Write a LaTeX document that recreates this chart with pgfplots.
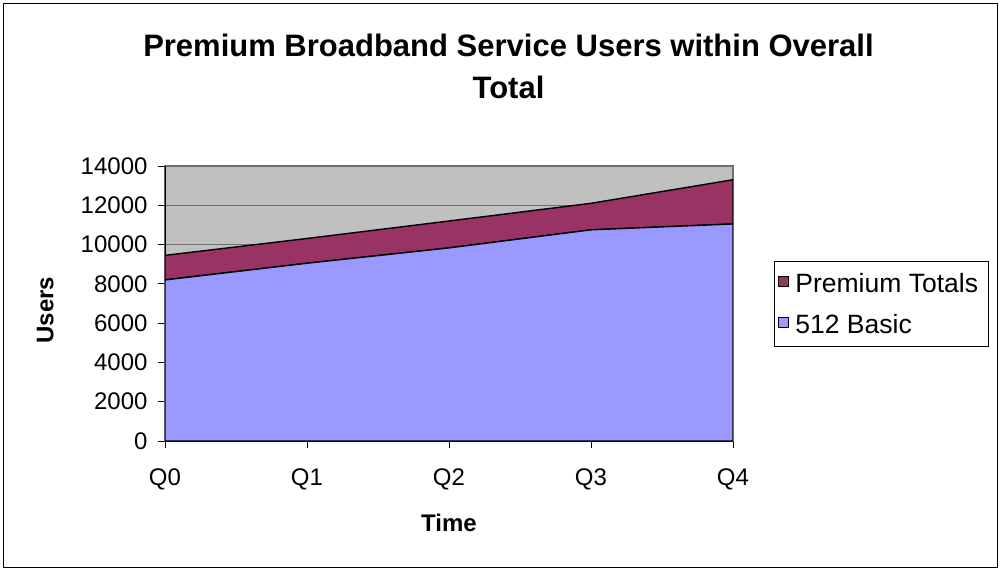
\documentclass[border=0pt]{standalone}
\usepackage{pgfplots}
\pgfplotsset{compat=1.18}
\usepackage{fontspec}
\setmainfont{Liberation Sans}

\definecolor{basicblue}{HTML}{9999FF}
\definecolor{premium}{HTML}{993366}
\definecolor{plotbg}{HTML}{C0C0C0}
\definecolor{gridgray}{HTML}{707070}

\begin{document}
\begin{tikzpicture}
  % page frame
  \path[use as bounding box] (0pt,0pt) rectangle (1002pt,571pt);
  \draw[black, line width=1.2pt] (3.5pt,3.5pt) rectangle (997.5pt,567.5pt);

  % title, two lines
  \node[anchor=base, font=\fontsize{31}{38}\selectfont\bfseries] at (508.5pt,514pt)
    {Premium Broadband Service Users within Overall};
  \node[anchor=base, font=\fontsize{31}{38}\selectfont\bfseries] at (508.5pt,472pt)
    {Total};

  \begin{axis}[
    at={(165pt,130pt)}, anchor=south west,
    scale only axis, width=568pt, height=275pt,
    xmin=0, xmax=4, ymin=0, ymax=14000,
    xtick={0,1,2,3,4},
    xticklabels={Q0,Q1,Q2,Q3,Q4},
    ytick={0,2000,...,14000},
    xtick pos=bottom, ytick pos=left,
    scaled y ticks=false,
    /pgf/number format/assume math mode=true,
    /pgf/number format/1000 sep={},
    tick label style={font=\fontsize{24}{28}\selectfont},
    xticklabel style={yshift=-17pt},
    yticklabel style={xshift=-7pt},
    tick align=outside,
    major tick length=7pt,
    tick style={black, line width=0.8pt},
    ymajorgrids,
    grid style={gridgray, line width=1pt},
    axis background/.style={fill=plotbg},
    axis line style={gridgray, line width=1.2pt},
    xlabel={Time}, ylabel={Users},
    label style={font=\fontsize{24}{28}\selectfont\bfseries},
    xlabel style={at={(axis description cs:0.5,-0.298)}, anchor=center},
    ylabel style={at={(axis description cs:-0.211,0.476)}, anchor=center},
    stack plots=y,
    reverse legend,
    legend style={
      at={(1.0722,0.6545)}, anchor=north west,
      draw=black, line width=0.8pt, fill=white,
      font=\fontsize{26.5}{30}\selectfont,
      row sep=16pt, inner xsep=3.5pt, inner ysep=10pt,
      cells={anchor=west},
      nodes={inner xsep=6.5pt},
    },
    legend image code/.code={
      \draw[#1, line width=1pt] (0pt,-3pt) rectangle (10pt,7pt);
    },
  ]
    \addplot[fill=basicblue, draw=black, line width=1.4pt]
      coordinates {(0,8200) (1,9050) (2,9830) (3,10750) (4,11050)} \closedcycle;
    \addlegendentry{512 Basic}
    \addplot[fill=premium, draw=black, line width=1.4pt]
      coordinates {(0,1250) (1,1260) (2,1370) (3,1350) (4,2250)} \closedcycle;
    \addlegendentry{Premium Totals}
    % axis lines drawn over the fills
    \draw[black, line width=1.2pt] (axis cs:0,14000) -- (axis cs:0,0) -- (axis cs:4,0);
  \end{axis}
\end{tikzpicture}
\end{document}
